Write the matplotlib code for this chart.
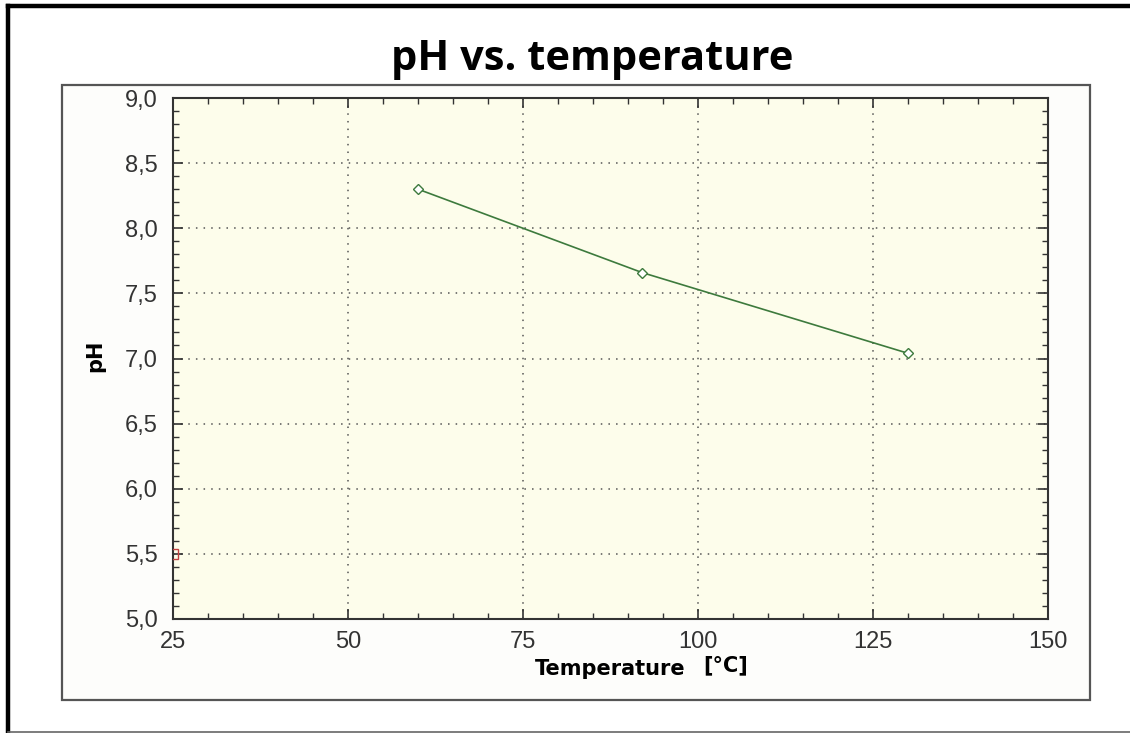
import matplotlib.pyplot as plt
from matplotlib.lines import Line2D
from matplotlib.patches import Rectangle
from matplotlib.ticker import MultipleLocator, FuncFormatter

# measured points
temperature = [60, 92, 130]
ph = [8.30, 7.66, 7.04]

# stray reference marker sitting on the left axis
ref_temp = [25]
ref_ph = [5.5]

title = "pH vs. temperature"
xlabel = "Temperature"
xunit = "[°C]"
ylabel = "pH"

fig = plt.figure(figsize=(11.3, 7.33), dpi=100)
W, H = 1130, 733

# outer page frame: heavy black top/left, thin gray bottom
fig.add_artist(Line2D([8 / W, 1.0], [1 - 6 / H, 1 - 6 / H], color="black", lw=3.2,
                      transform=fig.transFigure))
fig.add_artist(Line2D([8 / W, 8 / W], [0.0, 1 - 6 / H], color="black", lw=3.2,
                      transform=fig.transFigure))
fig.add_artist(Line2D([8 / W, 1.0], [1.5 / H, 1.5 / H], color="#666666", lw=1.2,
                      transform=fig.transFigure))

# box around the plot area
fig.add_artist(Rectangle((62 / W, 1 - 700 / H), (1090 - 62) / W, (700 - 85) / H,
                         transform=fig.transFigure, facecolor="#fdfdfb",
                         edgecolor="#555555", lw=1.6, zorder=0))

ax = fig.add_axes([173 / W, 1 - 619 / H, (1048 - 173) / W, (619 - 98) / H])
ax.set_facecolor("#fdfdeb")

ax.plot(temperature, ph, color="#3d7a3d", lw=1.2, marker="D", markersize=5.5,
        markerfacecolor="white", markeredgecolor="#3d7a3d", markeredgewidth=1.0,
        zorder=3)
ax.plot(ref_temp, ref_ph, linestyle="none", marker="s", markersize=7,
        markerfacecolor="none", markeredgecolor="#c04040", markeredgewidth=1.0,
        zorder=3)

ax.set_xlim(25, 150)
ax.set_ylim(5.0, 9.0)
ax.xaxis.set_major_locator(MultipleLocator(25))
ax.xaxis.set_minor_locator(MultipleLocator(5))
ax.yaxis.set_major_locator(MultipleLocator(0.5))
ax.yaxis.set_minor_locator(MultipleLocator(0.1))
ax.yaxis.set_major_formatter(FuncFormatter(lambda v, p: f"{v:.1f}".replace(".", ",")))

ax.tick_params(which="both", direction="in", top=True, right=True, color="#333333")
ax.tick_params(which="major", length=7, width=1.2)
ax.tick_params(which="minor", length=4, width=1.0)
ax.tick_params(axis="y", which="major", labelsize=17, pad=11, labelcolor="#333333")
ax.tick_params(axis="x", which="major", labelsize=17, pad=9, labelcolor="#333333")

ax.grid(True, which="major", linestyle=(0, (1, 4)), color="#555555", lw=1.1)
for s in ax.spines.values():
    s.set_color("#333333")
    s.set_linewidth(1.5)

for lab in ax.get_xticklabels() + ax.get_yticklabels():
    lab.set_family("Liberation Sans")

fig.text(592 / W, 1 - 59 / H, title, ha="center", va="center", fontsize=30,
         fontweight="bold", family="Open Sans")
fig.text(610 / W, 1 - 669 / H, xlabel, ha="center", va="center", fontsize=15,
         fontweight="bold", family="DejaVu Sans")
fig.text(726 / W, 1 - 665 / H, xunit, ha="center", va="center", fontsize=15,
         fontweight="bold", family="DejaVu Sans")
fig.text(95 / W, 1 - 356 / H, ylabel, ha="center", va="center", fontsize=15,
         fontweight="bold", family="DejaVu Sans", rotation=90)

fig.savefig("out.png", dpi=100, facecolor="white")
